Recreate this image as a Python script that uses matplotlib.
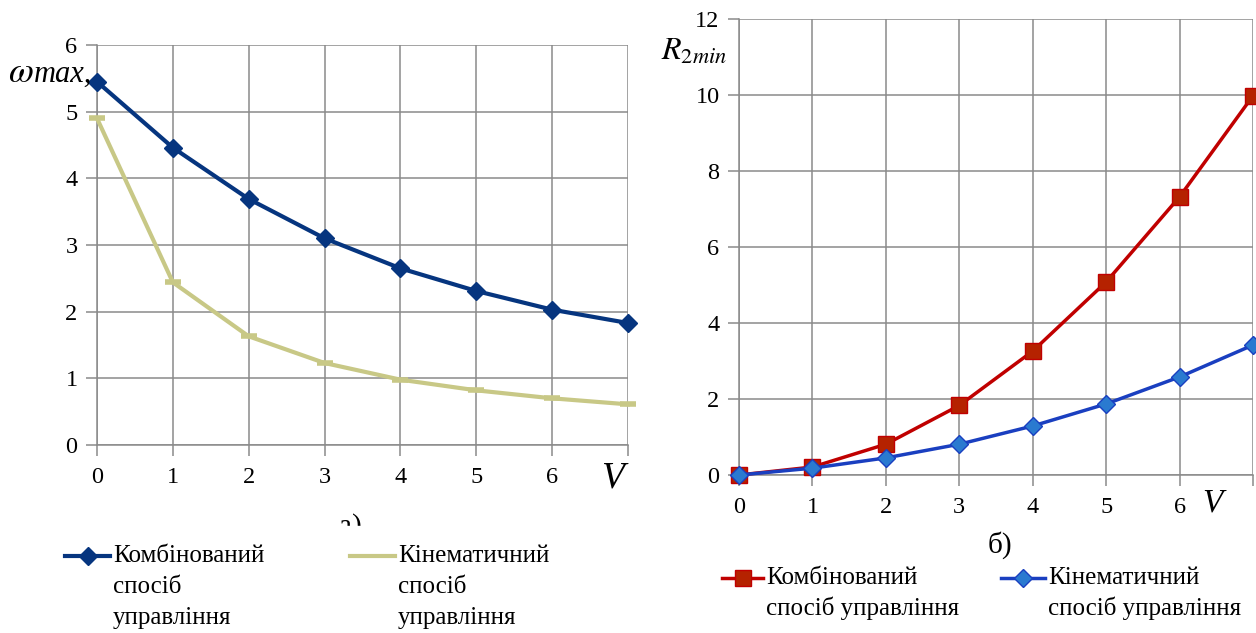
import matplotlib.pyplot as plt
from matplotlib.lines import Line2D
from matplotlib.patches import Rectangle

plt.rcParams['font.family'] = ['Liberation Serif', 'DejaVu Serif']
plt.rcParams['mathtext.fontset'] = 'stix'

# speed values on the horizontal axis
v = [0, 1, 2, 3, 4, 5, 6, 7]

# a) maximum angular velocity
omega_combined = [5.45, 4.46, 3.69, 3.10, 2.65, 2.31, 2.03, 1.83]
omega_kinematic = [4.90, 2.44, 1.63, 1.23, 0.98, 0.82, 0.70, 0.61]

# b) minimum turning radius
r_combined = [0.0, 0.21, 0.81, 1.83, 3.26, 5.08, 7.32, 9.98]
r_kinematic = [0.0, 0.18, 0.45, 0.81, 1.29, 1.87, 2.58, 3.42]

x_ticks = [0, 1, 2, 3, 4, 5, 6]
left_yticks = [0, 1, 2, 3, 4, 5, 6]
right_yticks = [0, 2, 4, 6, 8, 10, 12]

label_comb = 'Комбінований'
label_kin = 'Кінематичний'
label_tail = 'спосіб'
label_ctrl = 'управління'

W, H = 1256, 633
fig = plt.figure(figsize=(W / 100, H / 100), dpi=100)

grid_col = '#8a8a8a'


def px(x, y):
    return x / W, 1 - y / H


def style_axes(ax, yticks):
    ax.set_xlim(0, 7)
    ax.set_ylim(yticks[0], yticks[-1])
    ax.set_yticks(yticks)
    ax.set_xticks(v)
    ax.set_xticklabels([str(t) for t in x_ticks] + [''])
    ax.grid(True, color=grid_col, lw=1.1)
    ax.set_axisbelow(True)
    for s in ['top', 'right']:
        ax.spines[s].set_visible(False)
    for s in ['left', 'bottom']:
        ax.spines[s].set_color(grid_col)
        ax.spines[s].set_linewidth(1.1)
    ax.tick_params(axis='both', colors=grid_col, length=8, width=1.1,
                   labelcolor='black', labelsize=17.5)
    ax.tick_params(axis='x', pad=8)
    ax.tick_params(axis='y', pad=6)


# ---- left chart ----
axl = fig.add_axes([97 / W, 1 - 445 / H, (628 - 97) / W, (445 - 45) / H])
style_axes(axl, left_yticks)
axl.plot(v, omega_combined, color='#06357f', lw=3, marker='D', ms=9,
         mfc='#06357f', mec='#06357f', clip_on=False, zorder=3)
axl.plot(v, omega_kinematic, color='#c8c886', lw=3, marker='_', ms=12,
         mew=4, mec='#c8c886', clip_on=False, zorder=3)
axl.text(6.8, -0.5, 'V', fontsize=27, style='italic', ha='center', va='center')

fig.text(*px(8, 82), r'$\omega$', fontsize=26, va='baseline', ha='left')
fig.text(*px(34, 82), 'max,', fontsize=22, style='italic', va='baseline', ha='left')

# caption a), cut at the bottom edge
fig.text(*px(350, 527), 'а)', fontsize=21, ha='center', va='center')
fig.add_artist(Rectangle(px(300, 540), 100 / W, 14 / H, transform=fig.transFigure,
                         color='white', zorder=5))

# ---- right chart ----
axr = fig.add_axes([739 / W, 1 - 475 / H, (1253 - 739) / W, (475 - 19) / H])
style_axes(axr, right_yticks)
axr.plot(v, r_combined, color='#c00000', lw=2.5, marker='s', ms=12,
         mfc='#b52200', mec='#c00000', clip_on=False, zorder=3)
axr.plot(v, r_kinematic, color='#1a3fc0', lw=2.5, marker='D', ms=9,
         mfc='#2a7ad0', mec='#1a3fc0', clip_on=False, zorder=4)
axr.text(6.45, -0.75, 'V', fontsize=24, style='italic', ha='center', va='center')

fig.text(*px(661, 52), r'$R_{2min}$', fontsize=23, va='center', ha='left')
fig.text(*px(1000, 545), 'б)', fontsize=21, ha='center', va='center')


# ---- legends ----
def legend_item(x0, x1, y, color, marker, mfc, mec, ms, lw, lines, spacing):
    fig.add_artist(Line2D([x0 / W, x1 / W], [1 - y / H] * 2, transform=fig.transFigure,
                          color=color, lw=lw))
    if marker:
        fig.add_artist(Line2D([(x0 + x1) / 2 / W], [1 - y / H], transform=fig.transFigure,
                              marker=marker, ms=ms, mfc=mfc, mec=mec, lw=0))
    for i, t in enumerate(lines):
        fig.text(*px(x1 + 3, y + i * spacing), t, fontsize=18, va='center', ha='left')


legend_item(65, 110, 556, '#06357f', 'D', '#06357f', '#06357f', 9, 3,
            [label_comb, label_tail, label_ctrl], 31)
legend_item(350, 395, 556, '#c8c886', None, None, None, 0, 3,
            [label_kin, label_tail, label_ctrl], 31)
legend_item(722, 763, 578, '#c00000', 's', '#b52200', '#c00000', 12, 2.5,
            [label_comb, label_tail + ' ' + label_ctrl], 30)
legend_item(1001, 1045, 578, '#1a3fc0', 'D', '#2a7ad0', '#1a3fc0', 9, 2.5,
            [label_kin, label_tail + ' ' + label_ctrl], 30)

fig.savefig('out.png', dpi=100)
